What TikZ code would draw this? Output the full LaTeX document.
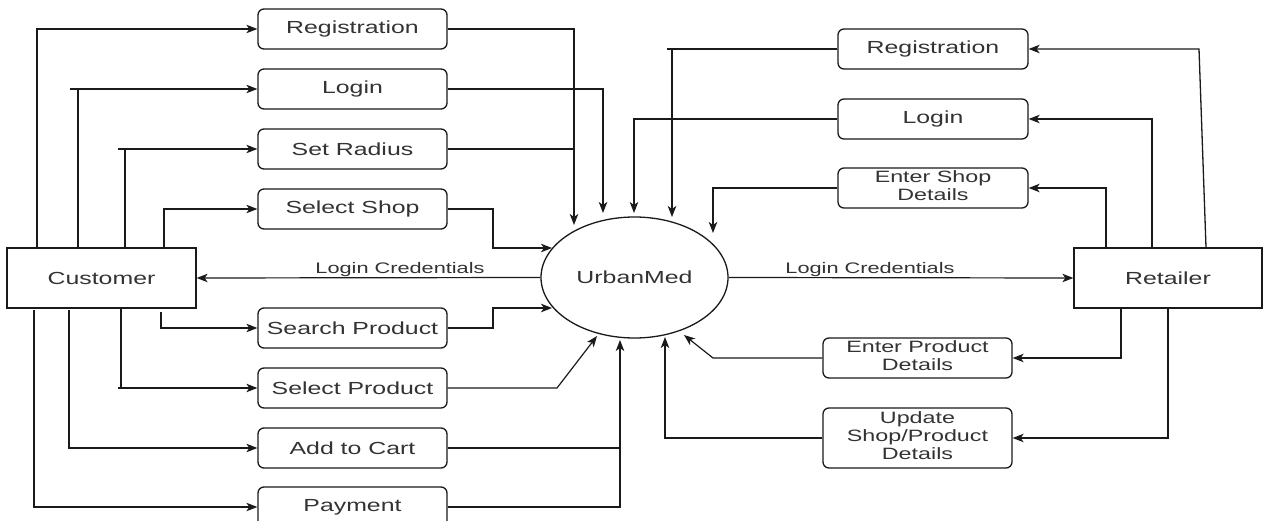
\documentclass[tikz,border=0pt]{standalone}
\usepackage{fontspec}
\setmainfont{Liberation Sans}
\usepackage{graphicx}
\usetikzlibrary{arrows.meta,shapes.geometric}
\definecolor{txt}{HTML}{333333}
\definecolor{ln}{HTML}{1A1A1A}
\newcommand{\sx}[1]{\scalebox{1.42}[1]{#1}}
\newcommand{\twol}[2]{\sx{\begin{tabular}{@{}c@{}}#1\\#2\end{tabular}}}
\newcommand{\threel}[3]{\sx{\begin{tabular}{@{}c@{}}#1\\#2\\#3\end{tabular}}}
\tikzset{
  proc/.style={draw=ln, rounded corners=6pt, line width=1.3pt, minimum width=189pt,
    minimum height=40pt, inner sep=0pt, text=txt, font=\fontsize{17.5}{20}\selectfont},
  proctwo/.style={proc, font=\fontsize{16.4}{18}\selectfont},
  ent/.style={draw=ln, line width=1.3pt, minimum width=189pt, minimum height=60pt,
    inner sep=0pt, text=txt, font=\fontsize{17.5}{20}\selectfont},
  flow/.style={line width=1.2pt, draw=ln},
  arr/.style={flow, -{Stealth[length=11pt,width=8.5pt,inset=3pt]}},
  lbl/.style={text=txt, font=\fontsize{15.3}{17}\selectfont, inner sep=0pt, anchor=base},
}
\begin{document}
\begin{tikzpicture}[x=1pt,y=-1pt]
\useasboundingbox (0,0) rectangle (1263,521);
\clip (0,0) rectangle (1263,521);
\fill[white] (0,0) rectangle (1263,521);

% entities
\node[ent] (cust) at (101.5,278) {\sx{Customer}};
\node[ent, minimum width=188pt] (ret) at (1168,278) {\sx{Retailer}};
\node[draw=ln, ellipse, minimum width=187pt, minimum height=121pt, inner sep=0pt,
  line width=1.3pt, text=txt, font=\fontsize{17.5}{20}\selectfont] (um) at (634.5,277.5) {\sx{UrbanMed}};

% left processes
\node[proc] (lreg) at (352.5,29) {\sx{Registration}};
\node[proc] (llog) at (352.5,89) {\sx{Login}};
\node[proc] (lrad) at (352.5,149) {\sx{Set Radius}};
\node[proc] (lshop) at (352.5,209) {\sx{Select Shop}};
\node[proc] (lsearch) at (352.5,328) {\sx{Search Product}};
\node[proc] (lselp) at (352.5,388) {\sx{Select Product}};
\node[proc] (lcart) at (352.5,448) {\sx{Add to Cart}};
\node[proc] (lpay) at (352.5,507) {\sx{Payment}};

% right processes
\node[proc, minimum width=190pt] (rreg) at (933,49) {\sx{Registration}};
\node[proc, minimum width=190pt] (rlog) at (933,119) {\sx{Login}};
\node[proctwo, minimum width=190pt] (rshop) at (933,188) {\twol{Enter Shop}{Details}};
\node[proctwo] (rprod) at (917.5,358) {\twol{Enter Product}{Details}};
\node[proctwo, minimum height=60pt] (rupd) at (917.5,438) {\threel{Update}{Shop/Product}{Details}};

% customer -> processes
\draw[arr] (cust.north -| 37,0) |- (lreg.west);
\draw[arr] (cust.north -| 78,0) |- (llog.west);
\draw[flow] (llog.west -| 70,0) -- (llog.west -| 78,0);
\draw[arr] (cust.north -| 125,0) |- (lrad.west);
\draw[flow] (lrad.west -| 118,0) -- (lrad.west -| 125,0);
\draw[arr] (cust.north -| 164,0) |- (lshop.west);
\draw[arr] (161,312) |- (lsearch.west);
\draw[arr] (cust.south -| 121,0) |- (lselp.west);
\draw[flow] (lselp.west -| 118,0) -- (lselp.west -| 121,0);
\draw[arr] (69,310) |- (lcart.west);
\draw[arr] (34,310) |- (lpay.west);

% processes -> UrbanMed (left)
\draw[arr] (lreg.east) -| (574,225);
\draw[arr] (llog.east) -| (603,213);
\draw[flow] (lrad.east) -- (lrad.east -| 574,0);
\draw[arr] (lshop.east) -| (493,248) -- (552,248);
\draw[arr] (lsearch.east) -| (493,308) -- (552,308);
\draw[arr] (lselp.east) -- (557,388) -- (597,336);
\draw[flow] (lcart.east) -- (lcart.east -| 620,0);
\draw[arr] (lpay.east) -| (620,340);

% login credentials
\draw[arr] (um.west) -- (cust.east);
\node[lbl] (lc1) at (400,274) {\sx{Login Credentials}};
\draw[arr] (um.east) -- (ret.west);
\node[lbl] (lc2) at (870,274) {\sx{Login Credentials}};

% retailer -> processes
\draw[arr, line width=1.3pt] (ret.north -| 1206,0) -- (1199,49) -- (rreg.east);
\draw[arr] (ret.north -| 1152,0) |- (rlog.east);
\draw[arr] (ret.north -| 1106,0) |- (rshop.east);
\draw[arr] (ret.south -| 1121,0) |- (rprod.east);
\draw[arr] (ret.south -| 1168,0) |- (rupd.east);

% processes -> UrbanMed (right)
\draw[arr] (rreg.west) -| (672,217);
\draw[flow] (rreg.west -| 667,0) -- (rreg.west -| 672,0);
\draw[arr] (rlog.west) -| (634,213);
\draw[arr] (rshop.west) -| (713,233);
\draw[arr] (rprod.west) -- (713,358) -- (684,335);
\draw[arr] (rupd.west) -| (665,337);
\end{tikzpicture}
\end{document}
